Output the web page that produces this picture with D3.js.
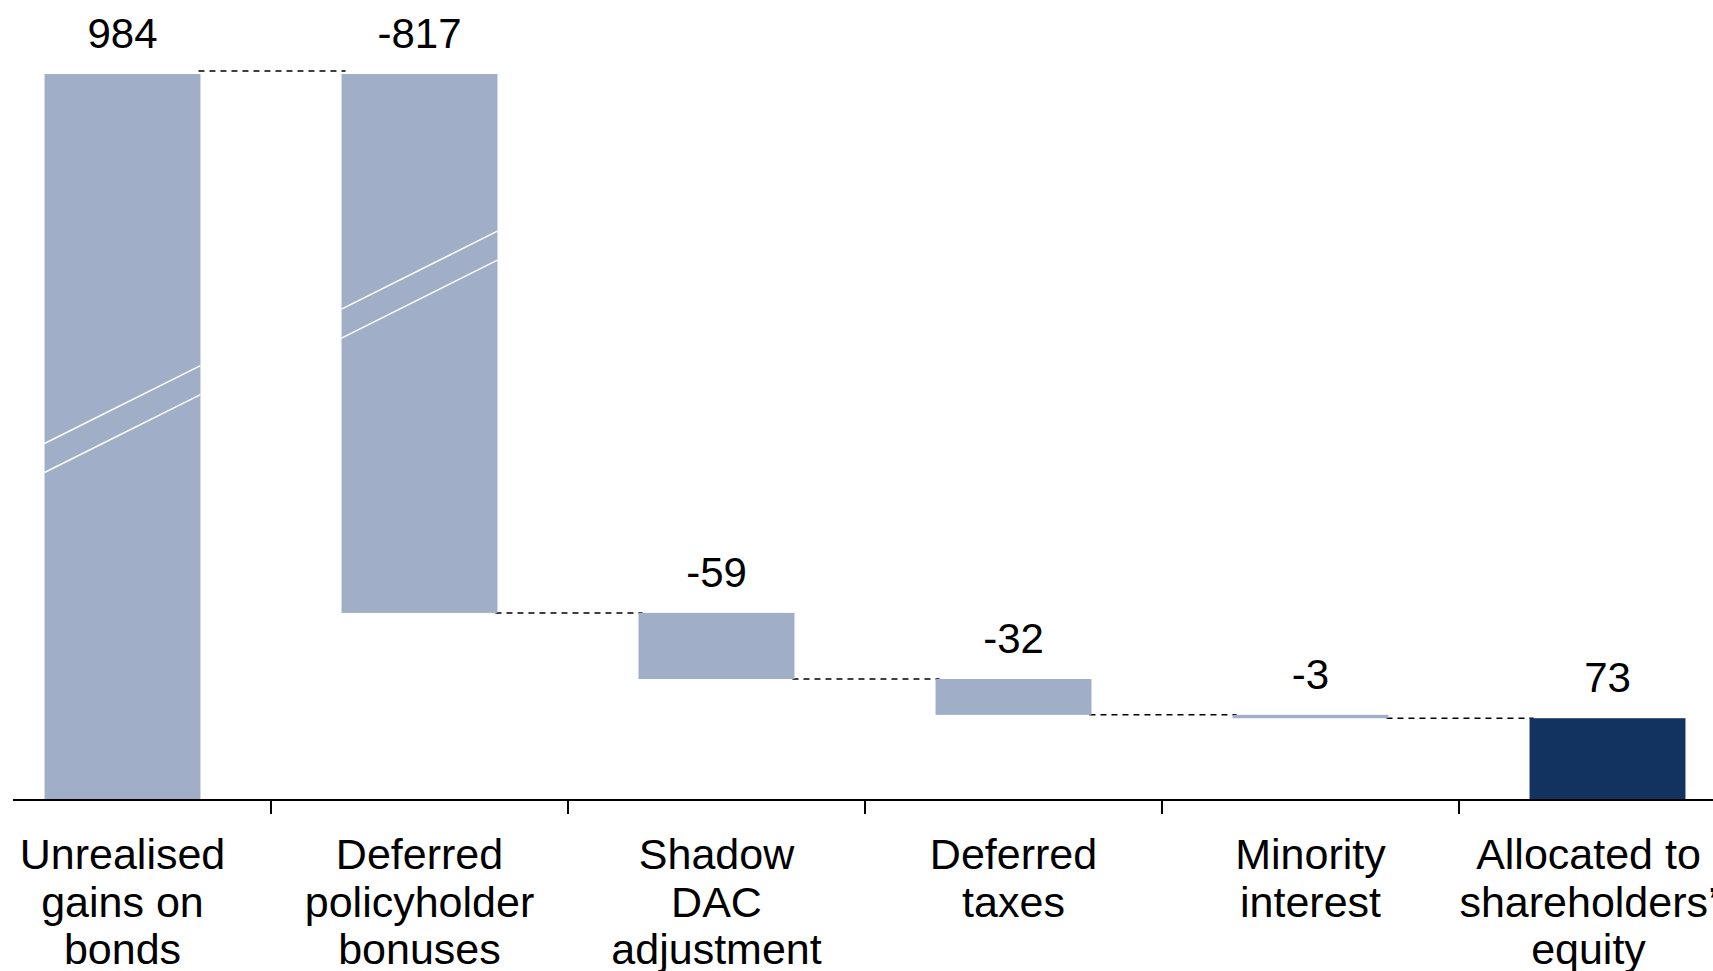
<!DOCTYPE html>
<html>
<head>
<meta charset="utf-8">
<script src="https://cdn.jsdelivr.net/npm/d3@7"></script>
<style>
  html, body { margin: 0; padding: 0; background: #fff; overflow: hidden; }
  svg { display: block; font-family: "Liberation Sans", Arial, sans-serif; }
</style>
</head>
<body>
<div id="chart"></div>
<script>
// waterfall steps
var categories = [
  ['Unrealised', 'gains on', 'bonds'],
  ['Deferred', 'policyholder', 'bonuses'],
  ['Shadow', 'DAC', 'adjustment'],
  ['Deferred', 'taxes'],
  ['Minority', 'interest'],
  ['Allocated to', 'shareholders\u2019', 'equity']
]
var values = [984, -817, -59, -32, -3, 73]
var isTotal = [false, false, false, false, false, true]
var labels = ['984', '-817', '-59', '-32', '-3', '73']
// axis-break marks drawn on the bars that run off the top (value where break sits)
var breakBars = [0, 1]
var breakAt = [340, 460]

var width = 1713, height = 971
var axisY = 800

var svg = d3.select('#chart')
  .append('svg')
  .attr('width', width)
  .attr('height', height)

var x = d3.scaleBand()
  .domain(d3.range(values.length))
  .range([-26, 1756])
  .paddingInner(0.475)
  .paddingOuter(0.2375)

var y = d3.scaleLinear()
  .domain([0, 648])
  .range([axisY, 74])
  .clamp(true)

// running totals
var steps = []
var run = 0
values.forEach(function(v, i) {
  var s, e
  if (isTotal[i]) { s = 0; e = v; run = v }
  else { s = run; e = run + v; run = e }
  steps.push({i: i, start: s, end: e, label: labels[i], total: isTotal[i]})
})

// connectors
var conn = steps.slice(0, -1).map(function(d, k) {
  return {x1: x(d.i) + x.bandwidth() - 2, x2: x(d.i + 1) + 4, v: d.end}
})
svg.selectAll('line.conn')
  .data(conn)
  .enter()
  .append('line')
  .attr('class', 'conn')
  .attr('x1', function(d) { return d.x1 })
  .attr('x2', function(d) { return d.x2 })
  .attr('y1', function(d) { return y(d.v) - (d.v > 648 ? 3 : 0) })
  .attr('y2', function(d) { return y(d.v) - (d.v > 648 ? 3 : 0) })
  .attr('stroke', '#000')
  .attr('stroke-width', 1.5)
  .attr('stroke-dasharray', '6,5')

// bars
svg.selectAll('rect.bar')
  .data(steps)
  .enter()
  .append('rect')
  .attr('class', 'bar')
  .attr('x', function(d) { return x(d.i) })
  .attr('width', x.bandwidth())
  .attr('y', function(d) { return y(Math.max(d.start, d.end)) })
  .attr('height', function(d) { return Math.max(1.5, Math.abs(y(d.start) - y(d.end))) })
  .attr('fill', function(d) { return d.total ? '#12335f' : '#a0aec7' })

// break marks
breakBars.forEach(function(b, k) {
  var x0 = x(b), x1 = x(b) + x.bandwidth()
  var cy = y(breakAt[k])
  var rise = x.bandwidth() / 4
  ;[-14.5, 14.5].forEach(function(off) {
    svg.append('line')
      .attr('x1', x0).attr('y1', cy + off + rise)
      .attr('x2', x1).attr('y2', cy + off - rise)
      .attr('stroke', '#fff')
      .attr('stroke-width', 1.6)
  })
})

// value labels
svg.selectAll('text.val')
  .data(steps)
  .enter()
  .append('text')
  .attr('class', 'val')
  .attr('x', function(d) { return x(d.i) + x.bandwidth() / 2 })
  .attr('y', function(d) { return y(Math.max(d.start, d.end)) - 26 })
  .attr('text-anchor', 'middle')
  .attr('font-size', 42)
  .attr('fill', '#000')
  .text(function(d) { return d.label })

// x axis
svg.append('line')
  .attr('x1', 13).attr('x2', width)
  .attr('y1', axisY).attr('y2', axisY)
  .attr('stroke', '#000')
  .attr('stroke-width', 2)

var step = x.step()
svg.selectAll('line.tick')
  .data(d3.range(1, values.length))
  .enter()
  .append('line')
  .attr('class', 'tick')
  .attr('x1', function(i) { return x(i) - step * x.paddingInner() / 2 })
  .attr('x2', function(i) { return x(i) - step * x.paddingInner() / 2 })
  .attr('y1', axisY)
  .attr('y2', axisY + 14)
  .attr('stroke', '#000')
  .attr('stroke-width', 2)

var cat = svg.selectAll('text.cat')
  .data(categories)
  .enter()
  .append('text')
  .attr('class', 'cat')
  .attr('text-anchor', 'middle')
  .attr('font-size', 43)
  .attr('fill', '#000')

// last label sits a little left so it fits against the edge
cat.selectAll('tspan')
  .data(function(d, i) { return d.map(function(s) { return {s: s, i: i} }) })
  .enter()
  .append('tspan')
  .attr('x', function(d) {
    return x(d.i) + x.bandwidth() / 2 - (d.i === values.length - 1 ? 19 : 0)
  })
  .attr('y', function(d, j) { return 869 + j * 47.5 })
  .text(function(d) { return d.s })
</script>
</body>
</html>
